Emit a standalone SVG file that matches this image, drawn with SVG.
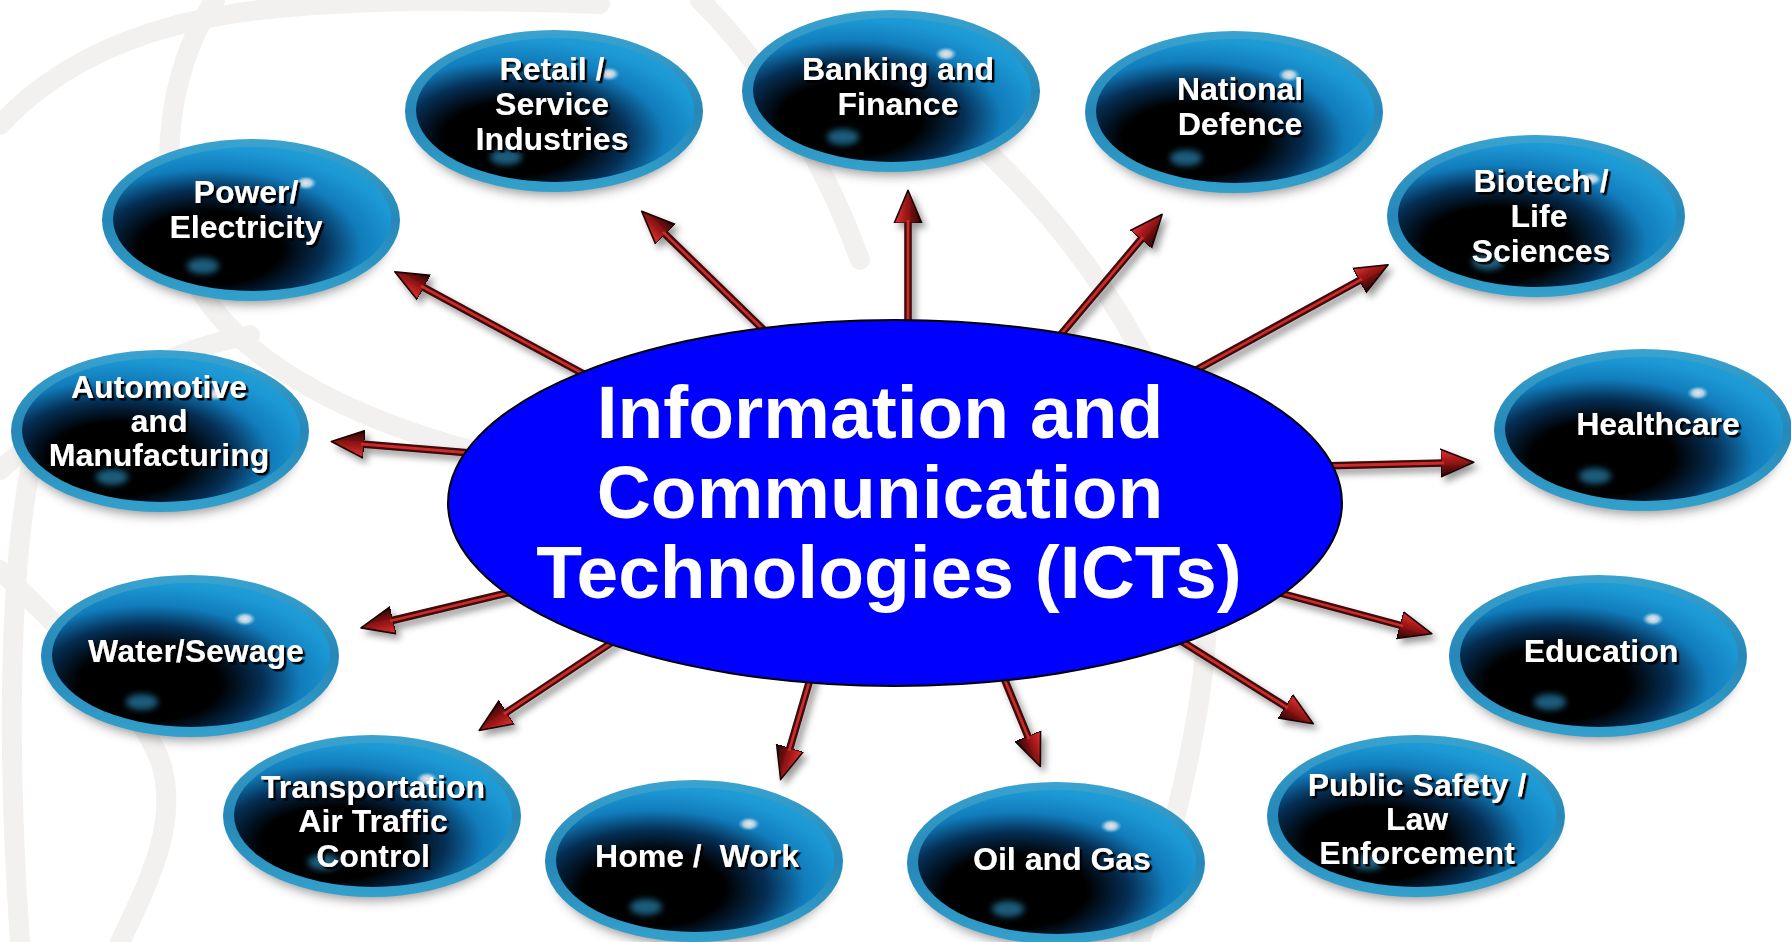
<svg xmlns="http://www.w3.org/2000/svg" xmlns:xlink="http://www.w3.org/1999/xlink" width="1791" height="942" viewBox="0 0 1791 942">
<style>
.bg{fill:none;stroke:#f2f1ef;stroke-width:20;stroke-linecap:round}
.shaft{stroke:#3a0808;stroke-width:7.5;fill:none;marker-end:url(#head)}
.hi{stroke:#cf2a2a;stroke-width:2.8;fill:none}
.lbl{font-family:"Liberation Sans",Arial,sans-serif;font-weight:bold;font-size:32px;fill:#ffffff;text-anchor:middle;filter:url(#tshadow)}
.title{font-family:"Liberation Sans",Arial,sans-serif;font-weight:bold;font-size:75px;fill:#ffffff;text-anchor:middle}
</style>
<defs>
<filter id="tshadow" x="-10%" y="-30%" width="125%" height="170%"><feDropShadow dx="2.5" dy="2.5" stdDeviation="0.6" flood-color="#000" flood-opacity="1"/></filter>
<filter id="ashadow" x="-10%" y="-10%" width="120%" height="120%"><feDropShadow dx="4" dy="5" stdDeviation="3.5" flood-color="#000" flood-opacity="0.4"/></filter>
<filter id="blur6" x="-20%" y="-30%" width="140%" height="160%"><feGaussianBlur stdDeviation="6"/></filter>
<filter id="blur2" x="-50%" y="-50%" width="200%" height="200%"><feGaussianBlur stdDeviation="3"/></filter>
<linearGradient id="rimGrad" x1="0" y1="0" x2="0" y2="1">
<stop offset="0" stop-color="#3aa3cf"/><stop offset="0.5" stop-color="#2688b8"/><stop offset="1" stop-color="#33a0cc"/>
</linearGradient>
<radialGradient id="coreGrad" cx="0.35" cy="0.7" r="0.85" fx="0.35" fy="0.7">
<stop offset="0" stop-color="#000000"/><stop offset="0.3" stop-color="#000000"/><stop offset="0.48" stop-color="#052f55"/><stop offset="0.64" stop-color="#117cbb"/><stop offset="0.8" stop-color="#1c98d4"/><stop offset="1" stop-color="#26a4da"/>
</radialGradient>
<radialGradient id="spotGrad"><stop offset="0" stop-color="#f6e4de"/><stop offset="0.5" stop-color="#d6e4ec" stop-opacity="0.8"/><stop offset="1" stop-color="#7fc4e6" stop-opacity="0"/></radialGradient>
<linearGradient id="headGrad" x1="0" y1="0" x2="0" y2="1">
<stop offset="0" stop-color="#e23434"/><stop offset="0.45" stop-color="#9c1616"/><stop offset="1" stop-color="#1e0303"/>
</linearGradient>
<marker id="head" markerUnits="userSpaceOnUse" viewBox="0 0 32 28" markerWidth="34" markerHeight="30" refX="3" refY="14" orient="auto">
<path d="M0,1 L31,14 L0,27 Z" fill="url(#headGrad)" stroke="#1a0202" stroke-width="1.5" stroke-linejoin="round"/>
</marker>
<g id="sphere">
<ellipse cx="0" cy="12" rx="138" ry="72" fill="#3a3a3a" opacity="0.55" filter="url(#blur6)"/>
<ellipse cx="0" cy="0" rx="149" ry="81" fill="url(#rimGrad)"/>
<ellipse cx="1" cy="-1" rx="139" ry="72" fill="url(#coreGrad)"/>
<ellipse cx="55" cy="-37" rx="11" ry="7" fill="url(#spotGrad)"/>
<ellipse cx="-48" cy="46" rx="16" ry="8" fill="#2f9bd0" opacity="0.6" filter="url(#blur2)"/>
</g>
</defs>
<rect width="1791" height="942" fill="#ffffff"/>
<g id="background">
<path class="bg" d="M0,125 C60,60 150,22 260,10 S480,0 600,4"/>
<path class="bg" d="M215,0 C165,70 150,200 200,290 C250,370 360,420 470,450"/>
<path class="bg" d="M0,470 C90,390 170,350 250,335"/>
<path class="bg" d="M30,470 C5,600 10,800 20,942"/>
<path class="bg" d="M0,570 C70,640 130,690 160,760 C180,820 150,880 120,942"/>
<path class="bg" d="M700,0 C760,60 820,150 860,260"/>
<path class="bg" d="M940,110 C1050,200 1150,330 1195,480 C1230,610 1190,780 1140,942"/>
</g>
<g id="connectors" filter="url(#ashadow)">
<g class="arrow"><line class="shaft" x1="593" y1="379" x2="421" y2="286"/><line class="hi" x1="593" y1="379" x2="421" y2="286"/></g>
<g class="arrow"><line class="shaft" x1="773" y1="339" x2="663" y2="232"/><line class="hi" x1="773" y1="339" x2="663" y2="232"/></g>
<g class="arrow"><line class="shaft" x1="908" y1="337" x2="908" y2="220"/><line class="hi" x1="908" y1="337" x2="908" y2="220"/></g>
<g class="arrow"><line class="shaft" x1="1052" y1="345" x2="1143" y2="237"/><line class="hi" x1="1052" y1="345" x2="1143" y2="237"/></g>
<g class="arrow"><line class="shaft" x1="1187" y1="375" x2="1362" y2="279"/><line class="hi" x1="1187" y1="375" x2="1362" y2="279"/></g>
<g class="arrow"><line class="shaft" x1="1319" y1="466" x2="1444" y2="463"/><line class="hi" x1="1319" y1="466" x2="1444" y2="463"/></g>
<g class="arrow"><line class="shaft" x1="1265" y1="589" x2="1403" y2="626"/><line class="hi" x1="1265" y1="589" x2="1403" y2="626"/></g>
<g class="arrow"><line class="shaft" x1="1170" y1="634" x2="1288" y2="708"/><line class="hi" x1="1170" y1="634" x2="1288" y2="708"/></g>
<g class="arrow"><line class="shaft" x1="999" y1="666" x2="1029" y2="739"/><line class="hi" x1="999" y1="666" x2="1029" y2="739"/></g>
<g class="arrow"><line class="shaft" x1="813" y1="669" x2="789" y2="751"/><line class="hi" x1="813" y1="669" x2="789" y2="751"/></g>
<g class="arrow"><line class="shaft" x1="620" y1="637" x2="504" y2="714"/><line class="hi" x1="620" y1="637" x2="504" y2="714"/></g>
<g class="arrow"><line class="shaft" x1="520" y1="590" x2="390" y2="621"/><line class="hi" x1="520" y1="590" x2="390" y2="621"/></g>
<g class="arrow"><line class="shaft" x1="483" y1="454" x2="361" y2="444"/><line class="hi" x1="483" y1="454" x2="361" y2="444"/></g>
</g>
<g id="center-ict">
<ellipse cx="895" cy="503" rx="447" ry="183" fill="#0000ff" stroke="#000000" stroke-width="2"/>
<text class="title"><tspan x="880" y="438">Information and</tspan><tspan x="880" y="518">Communication</tspan><tspan x="889" y="598">Technologies (ICTs)</tspan></text>
</g>
<g id="nodes">
<g id="node-power"><use xlink:href="#sphere" x="251" y="220"/><text class="lbl"><tspan x="246" y="203">Power/</tspan><tspan x="246" y="238">Electricity</tspan></text></g>
<g id="node-retail"><use xlink:href="#sphere" x="554" y="111"/><text class="lbl"><tspan x="552" y="80">Retail /</tspan><tspan x="552" y="115">Service</tspan><tspan x="552" y="150">Industries</tspan></text></g>
<g id="node-banking"><use xlink:href="#sphere" x="891" y="91"/><text class="lbl"><tspan x="898" y="80">Banking and</tspan><tspan x="898" y="115">Finance</tspan></text></g>
<g id="node-defence"><use xlink:href="#sphere" x="1234" y="112"/><text class="lbl"><tspan x="1240" y="100">National</tspan><tspan x="1240" y="135">Defence</tspan></text></g>
<g id="node-biotech"><use xlink:href="#sphere" x="1536" y="216"/><text class="lbl"><tspan x="1541" y="192">Biotech /</tspan><tspan x="1539" y="227">Life</tspan><tspan x="1541" y="262">Sciences</tspan></text></g>
<g id="node-healthcare"><use xlink:href="#sphere" x="1643" y="430"/><text class="lbl"><tspan x="1658" y="435">Healthcare</tspan></text></g>
<g id="node-education"><use xlink:href="#sphere" x="1598" y="656"/><text class="lbl"><tspan x="1601" y="662">Education</tspan></text></g>
<g id="node-publicsafety"><use xlink:href="#sphere" x="1416" y="816"/><text class="lbl"><tspan x="1417" y="796">Public Safety /</tspan><tspan x="1417" y="830">Law</tspan><tspan x="1417" y="864">Enforcement</tspan></text></g>
<g id="node-oilgas"><use xlink:href="#sphere" x="1056" y="863"/><text class="lbl"><tspan x="1062" y="870">Oil and Gas</tspan></text></g>
<g id="node-homework"><use xlink:href="#sphere" x="694" y="861"/><text class="lbl" xml:space="preserve"><tspan x="697" y="867">Home /  Work</tspan></text></g>
<g id="node-transport"><use xlink:href="#sphere" x="372" y="816"/><text class="lbl"><tspan x="373" y="798">Transportation</tspan><tspan x="373" y="832">Air Traffic</tspan><tspan x="373" y="867">Control</tspan></text></g>
<g id="node-water"><use xlink:href="#sphere" x="190" y="656"/><text class="lbl"><tspan x="196" y="662">Water/Sewage</tspan></text></g>
<g id="node-automotive"><use xlink:href="#sphere" x="160" y="431"/><text class="lbl"><tspan x="159" y="398">Automotive</tspan><tspan x="159" y="432">and</tspan><tspan x="159" y="466">Manufacturing</tspan></text></g>
</g>
</svg>
